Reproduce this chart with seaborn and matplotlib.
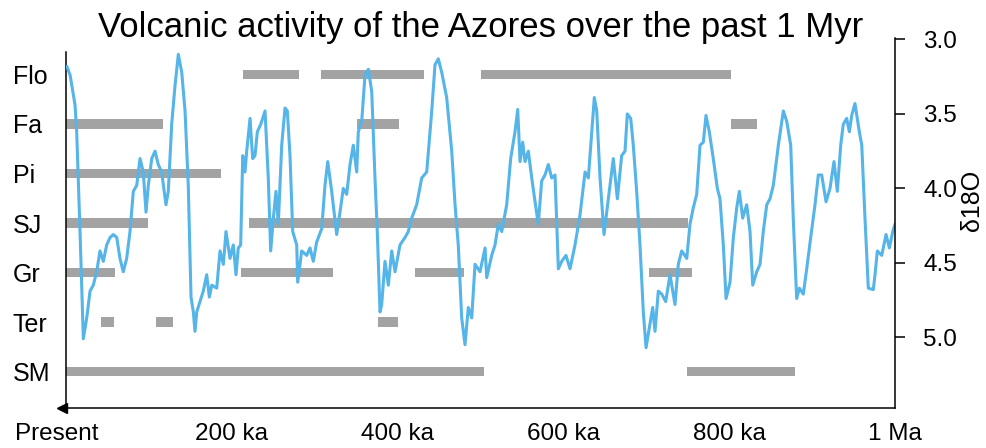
import matplotlib
matplotlib.use("Agg")
import matplotlib.pyplot as plt
import matplotlib.transforms as mtransforms
import numpy as np
import pandas as pd
import seaborn as sns

# ---------------- data ----------------
volcanoes = ["Flo", "Fa", "Pi", "SJ", "Gr", "Ter", "SM"]

bar_volcano = ["Flo", "Flo", "Flo",
               "Fa", "Fa", "Fa",
               "Pi",
               "SJ", "SJ",
               "Gr", "Gr", "Gr", "Gr",
               "Ter", "Ter", "Ter",
               "SM", "SM"]
bar_start = [213, 308, 501,
             0, 351, 802,
             0,
             0, 221,
             0, 211, 421, 703,
             42, 109, 376,
             0, 749]
bar_end = [281, 432, 802,
           117, 402, 834,
           187,
           99, 750,
           59, 322, 480, 755,
           58, 129, 401,
           504, 879]

age_ka = [1, 5, 8.8, 10.9, 12.9, 14.8, 16.9, 18.9, 20.9, 25, 29, 32.9, 37, 41, 45, 49.1,
          53.1, 57.1, 61.2, 65.1, 69.1, 73.2, 77.2, 81.2, 85.3, 89.3, 93.2, 96.5, 99.3,
          103.4, 107.4, 111.3, 115.4, 120.6, 123.4, 127.5, 131.5, 135.5, 139.6, 143.6,
          147.5, 150.8, 153.6, 155.6, 157.7, 161.6, 165.6, 169.7, 172.9, 175.8, 181.8,
          185.8, 189.8, 193, 197.8, 201.8, 205.1, 207.8, 210.7, 213.2, 215.9, 218, 222,
          225.2, 228, 230.8, 234.9, 240.1, 244, 246.9, 250.1, 253.3, 256.1, 260.2, 264.2,
          267, 270.2, 273.5, 278.3, 279.5, 284.3, 290.4, 294.3, 298.3, 302.4, 308.5,
          312.4, 315.7, 320.5, 326.5, 330.5, 334.5, 338.6, 342.6, 346.6, 350.7, 352.6,
          356.7, 360.7, 364.7, 368.8, 372.7, 375.5, 378.8, 380.8, 384.8, 388.8, 392.9,
          396.9, 402.9, 408.9, 412.9, 417, 423, 429.1, 435.1, 441.2, 445.1, 449.1, 453.2,
          459.2, 465.3, 469.3, 473.2, 477.3, 481.3, 485.3, 489.4, 493.4, 499.4, 505.5,
          507.5, 513.5, 517.5, 521.5, 525.6, 531.6, 536.4, 541.6, 544.9, 547.7, 550.9,
          553.7, 557.7, 561.8, 565.8, 569.7, 573.8, 577.8, 581.8, 585.9, 589.9, 593.9,
          598, 603.1, 608, 614, 620, 626.1, 630.1, 634.2, 637.3, 640.2, 644.2, 649,
          654.2, 660.2, 665.1, 670.3, 674.3, 677.1, 681.2, 684.3, 688.4, 692.4, 696.4,
          699.7, 703.6, 707.7, 710.5, 714.5, 718.6, 723.4, 728.6, 734.6, 738.6, 742.7,
          748.8, 752.7, 756.7, 760.8, 764.8, 768.8, 772, 776, 780.8, 785.7, 788.9, 792.9,
          796.2, 801, 805, 809.1, 812.2, 816.3, 821.1, 825.1, 828.4, 833.2, 837.2, 841.1,
          845.3, 849.2, 853.2, 859.3, 865.3, 869.4, 874.2, 877.4, 881.4, 884.6, 889.4,
          893.5, 898.3, 903.5, 907.5, 911.6, 916.8, 921.6, 926.4, 930.4, 934.5, 937.6,
          941.7, 944.9, 947.8, 951.7, 957, 959.9, 963.8, 967.8, 973.8, 975.9, 978.7, 984,
          989.2, 993.2, 997.3, 1000]
d18o = [3.18, 3.24, 3.37, 3.44, 3.62, 3.93, 4.29, 4.65, 5.01, 4.87, 4.69, 4.65, 4.56, 4.42,
        4.49, 4.38, 4.33, 4.31, 4.33, 4.47, 4.56, 4.47, 4.29, 4.02, 3.98, 3.80, 3.89, 4.16,
        3.98, 3.80, 3.75, 3.84, 3.89, 4.11, 4.02, 3.57, 3.31, 3.10, 3.22, 3.48, 3.98, 4.73,
        4.83, 4.96, 4.83, 4.76, 4.69, 4.58, 4.73, 4.65, 4.67, 4.42, 4.51, 4.29, 4.47, 4.38,
        4.58, 4.40, 4.38, 3.78, 3.89, 3.75, 3.53, 3.80, 3.78, 3.62, 3.57, 3.48, 3.93, 4.42,
        4.20, 4.02, 4.24, 3.71, 3.46, 3.48, 3.78, 4.29, 4.38, 4.63, 4.42, 4.45, 4.40, 4.49,
        4.36, 4.27, 3.98, 3.82, 4.02, 4.31, 4.16, 4.00, 4.04, 3.84, 3.71, 3.89, 3.62, 3.55,
        3.24, 3.20, 3.35, 3.93, 4.29, 4.83, 4.78, 4.49, 4.65, 4.42, 4.56, 4.38, 4.33, 4.29,
        4.20, 4.11, 3.93, 3.89, 3.48, 3.17, 3.13, 3.22, 3.39, 3.75, 4.11, 4.38, 4.87, 5.05,
        4.80, 4.87, 4.51, 4.56, 4.40, 4.60, 4.45, 4.38, 4.24, 4.29, 4.11, 3.80, 3.62, 3.47,
        3.82, 3.69, 3.82, 3.75, 3.93, 4.09, 4.24, 3.95, 3.91, 3.84, 3.93, 3.91, 4.54, 4.49,
        4.45, 4.54, 4.38, 4.18, 3.89, 3.93, 3.62, 3.39, 3.48, 3.93, 4.31, 4.07, 3.80, 4.07,
        3.78, 3.75, 3.50, 3.53, 3.71, 4.02, 4.38, 4.83, 5.07, 4.94, 4.80, 4.96, 4.69, 4.71,
        4.76, 4.58, 4.78, 4.51, 4.42, 4.47, 4.24, 4.13, 4.04, 3.71, 3.69, 3.51, 3.62, 3.80,
        4.00, 4.07, 4.38, 4.74, 4.63, 4.33, 4.13, 4.02, 4.20, 4.11, 4.29, 4.65, 4.56, 4.51,
        4.29, 4.11, 4.07, 3.98, 3.71, 3.48, 3.55, 3.71, 4.22, 4.74, 4.67, 4.71, 4.54, 4.33,
        4.11, 3.91, 3.91, 4.09, 4.00, 3.82, 4.02, 3.71, 3.57, 3.53, 3.62, 3.51, 3.43, 3.62,
        3.71, 4.20, 4.67, 4.68, 4.58, 4.42, 4.45, 4.31, 4.40, 4.29, 4.24]

x_ticks = [0, 100, 200, 300, 400, 500, 600, 700, 800, 900, 1000]
x_tick_labels = ["Present", "", "200 ka", "", "400 ka", "", "600 ka", "", "800 ka", "", "1 Ma"]
d18o_ticks = [3.0, 3.5, 4.0, 4.5, 5.0]

title = "Volcanic activity of the Azores over the past 1 Myr"

# ---------------- style ----------------
sns.set_theme(style="white")
plt.rcParams["font.family"] = ["Liberation Sans", "DejaVu Sans"]
plt.rcParams["text.color"] = "black"
plt.rcParams["axes.labelcolor"] = "black"
plt.rcParams["xtick.color"] = "black"
plt.rcParams["ytick.color"] = "black"

BAR_COLOR = "#a3a3a3"
LINE_COLOR = "#55b4e8"

W, H = 987, 448
fig = plt.figure(figsize=(W / 100, H / 100), dpi=100)
ax_l, ax_r, ax_t, ax_b = 66, 895, 38, 408
ax = fig.add_axes([ax_l / W, 1 - ax_b / H, (ax_r - ax_l) / W, (ax_b - ax_t) / H])

# activity bars
bars = pd.DataFrame({"volcano": bar_volcano, "start": bar_start, "end": bar_end})
bars["row"] = bars["volcano"].map({v: i for i, v in enumerate(volcanoes)})
ax.barh(bars["row"], bars["end"] - bars["start"], left=bars["start"],
        height=0.19, color=BAR_COLOR, linewidth=0, zorder=2)

ax.set_xlim(0, 1000)
ax.set_ylim(6.733, -0.733)
ax.set_yticks(range(len(volcanoes)))
ax.set_yticklabels(volcanoes, fontsize=18)
ax.tick_params(axis="y", length=0, pad=38.2, labelcolor="black")
for lab in ax.get_yticklabels():
    lab.set_ha("left")

ax.set_xticks(x_ticks)
ax.set_xticklabels(x_tick_labels, fontsize=17.5)
ax.tick_params(axis="x", direction="inout", length=9.5, width=1.1, color="black",
               labelcolor="black", pad=6)
shift = mtransforms.ScaledTranslation(-9 / 100, 0, fig.dpi_scale_trans)
first = ax.get_xticklabels()[0]
first.set_transform(first.get_transform() + shift)

for s in ["top", "right"]:
    ax.spines[s].set_visible(False)
for s in ["left", "bottom"]:
    ax.spines[s].set_color("black")
    ax.spines[s].set_linewidth(1.1)
ax.spines["left"].set_bounds(-0.45, 6.733)
ax.set_xlabel("")
ax.set_ylabel("")
ax.grid(False)

# arrow head at "Present" end of the time axis
ax.plot([-0.0045], [0], marker="<", markersize=7, color="black",
        transform=ax.transAxes, clip_on=False, zorder=5)

# d18O curve on a twin axis
ax2 = ax.twinx()
curve = pd.DataFrame({"age": age_ka, "d18O": d18o})
sns.lineplot(data=curve, x="age", y="d18O", ax=ax2, color=LINE_COLOR,
             linewidth=2.2, estimator=None, sort=False)
ax2.set_xlim(0, 1000)
ax2.set_ylim(5.475, 2.99)
ax2.set_yticks(d18o_ticks)
ax2.set_yticklabels([f"{t:.1f}" for t in d18o_ticks], fontsize=17.5)
ax2.tick_params(axis="y", direction="out", length=7.2, width=1.1, color="black",
                labelcolor="black", pad=13, right=True)
for s in ["top", "left", "bottom"]:
    ax2.spines[s].set_visible(False)
ax2.spines["right"].set_color("black")
ax2.spines["right"].set_linewidth(1.1)
ax2.set_xlabel("")
ax2.set_ylabel("δ18O", fontsize=18, color="black")
ax2.yaxis.label.set_va("center")
ax2.yaxis.set_label_coords((972 - ax_l) / (ax_r - ax_l), 1 - (200 - ax_t) / (ax_b - ax_t))
ax2.grid(False)

ax.set_title(title, fontsize=25, y=1.0, pad=1, color="black")

fig.savefig("out.png", dpi=100)
